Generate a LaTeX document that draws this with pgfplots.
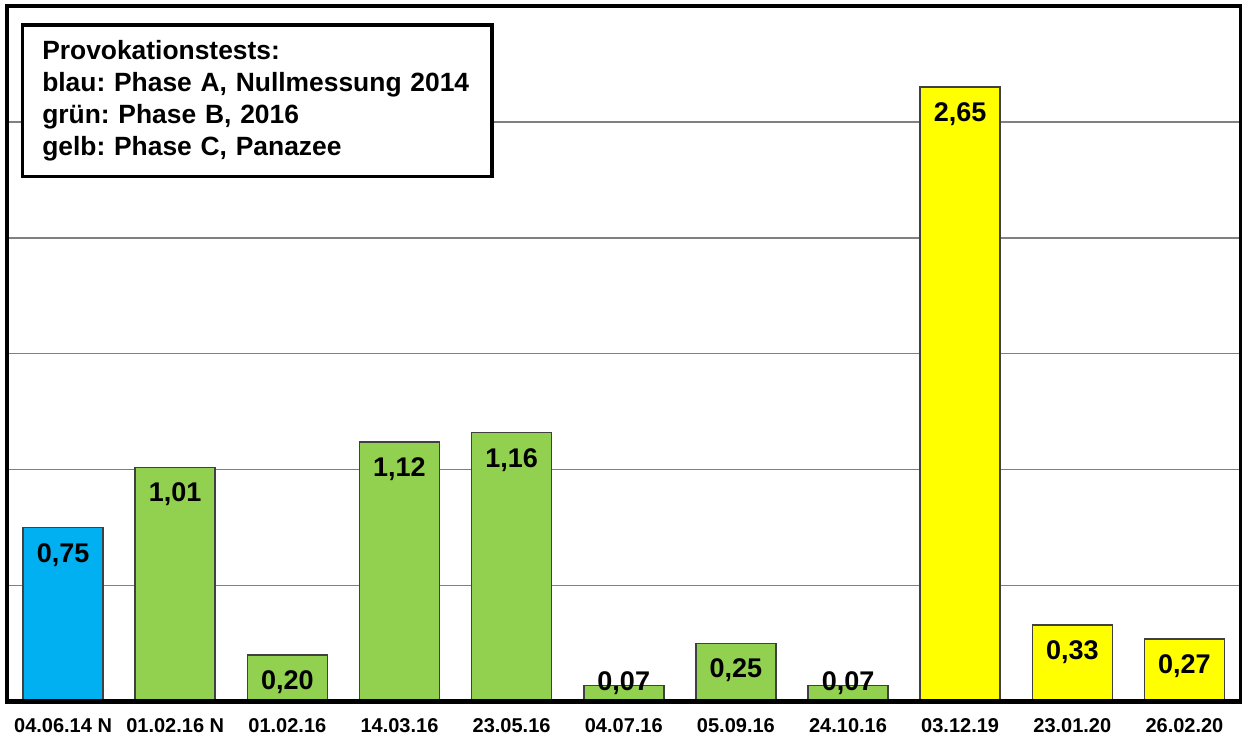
\documentclass[border=0pt]{standalone}
\usepackage{fontspec}
\setmainfont{Liberation Sans}
\usepackage{pgfplots}
\pgfplotsset{compat=1.18}
\definecolor{blau}{RGB}{0,176,240}
\definecolor{gruen}{RGB}{146,208,80}
\definecolor{gelb}{RGB}{255,255,0}
\definecolor{gitter}{RGB}{128,128,128}
\definecolor{rand}{RGB}{64,64,64}
\frenchspacing
\begin{document}
\begin{tikzpicture}
\begin{axis}[
  scale only axis,
  width=616.75bp, height=347.75bp,
  ybar, bar width=40bp, bar shift=0pt,
  xmin=-0.5, xmax=10.5, ymin=0, ymax=3,
  xtick={0,...,10},
  xticklabels={04.06.14 N, 01.02.16 N, 01.02.16, 14.03.16, 23.05.16,
    04.07.16, 05.09.16, 24.10.16, 03.12.19, 23.01.20, 26.02.20},
  ytick={0.5,1,1.5,2,2.5}, yticklabels={},
  ymajorgrids, grid style={line width=0.7bp, gitter},
  major tick length=0pt,
  axis line style={draw=none},
  xticklabel style={font=\fontsize{10bp}{12bp}\selectfont\bfseries,
    anchor=base, yshift=-15.25bp},
  visualization depends on={rawy \as \rawy},
  nodes near coords={\pgfmathprintnumber[fixed,fixed zerofill,precision=2,use comma,assume math mode=true]{\pgfplotspointmeta}},
  nodes near coords style={font=\fontsize{13.5bp}{16bp}\selectfont\bfseries,
    anchor=center, text depth=0pt,
    yshift={(max(\rawy-0.108,0.086)-\rawy)*116.3}},
]
\addplot[fill=blau, draw=rand, line width=0.75bp] coordinates {(0,0.75)};
\addplot[fill=gruen, draw=rand, line width=0.75bp] coordinates {
  (1,1.01) (2,0.20) (3,1.12) (4,1.16) (5,0.07) (6,0.25) (7,0.07)};
\addplot[fill=gelb, draw=rand, line width=0.75bp] coordinates {
  (8,2.65) (9,0.33) (10,0.27)};
\coordinate (sw) at (rel axis cs:0,0);
\coordinate (ne) at (rel axis cs:1,1);
\coordinate (nw) at (rel axis cs:0,1);
\end{axis}
\draw[line width=2bp] (sw) rectangle (ne);
\node[draw, fill=white, line width=1.75bp, anchor=north west, xshift=6.75bp, yshift=-8.65bp,
  minimum width=234.75bp, minimum height=75.7bp, text width=214.75bp,
  inner xsep=10bp, inner ysep=0pt, align=left,
  font=\fontsize{13.2bp}{15.9bp}\selectfont\bfseries] at (nw)
  {Provokationstests:\\
   blau: Phase A, Nullmessung 2014\\
   grün: Phase B, 2016\\
   gelb: Phase C, Panazee};
\pgfresetboundingbox
\path (sw) ++(-3.5bp,-18.25bp) coordinate (bb1);
\path (ne) ++(0.75bp,3bp) coordinate (bb2);
\path[use as bounding box] (bb1) rectangle (bb2);
\end{tikzpicture}
\end{document}
